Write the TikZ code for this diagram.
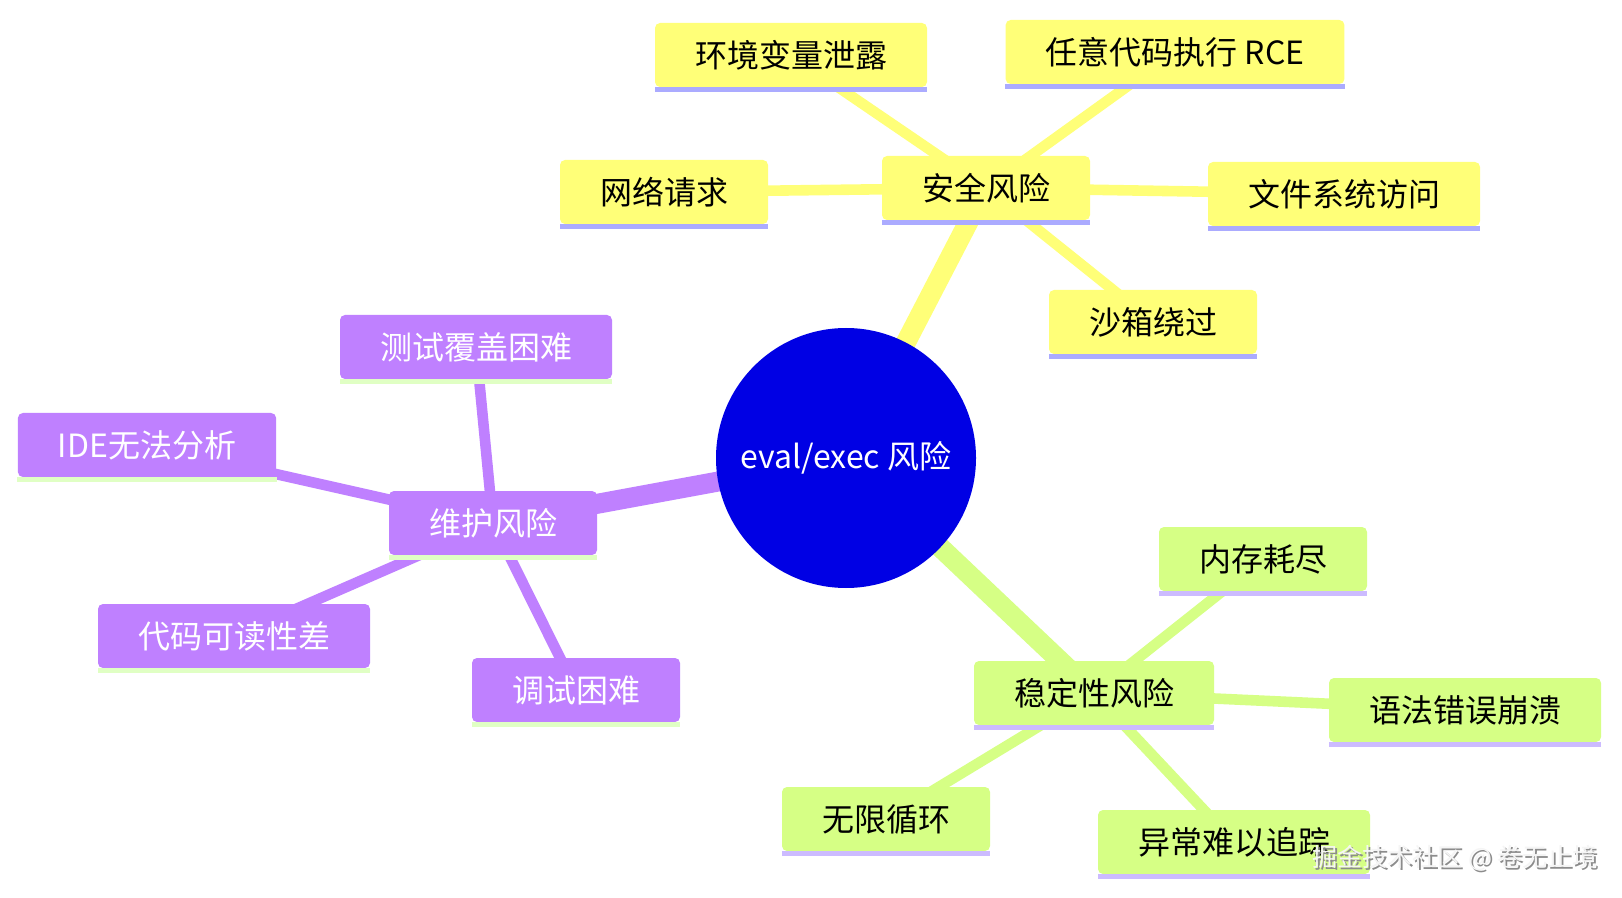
\documentclass[tikz,border=0pt]{standalone}
\usepackage{fontspec}
\setmainfont{Noto Sans CJK SC}
\usepackage{tikz}
\usetikzlibrary{backgrounds}
\definecolor{croot}{HTML}{0000E4}
\definecolor{cyel}{HTML}{FFFF78}
\definecolor{cyelline}{HTML}{ABABFF}
\definecolor{cpur}{HTML}{BF80FF}
\definecolor{cpurline}{HTML}{E0FFC4}
\definecolor{cgrn}{HTML}{D6FF85}
\definecolor{cgrnline}{HTML}{CCBBFF}
\definecolor{cmark}{HTML}{8C8C8C}

\tikzset{
  topic/.style={rounded corners=2.5pt, minimum height=32pt, inner xsep=20pt, inner ysep=0pt,
    font=\fontsize{16}{19}\selectfont},
  yelbox/.style={topic, fill=cyel, text=black},
  purbox/.style={topic, fill=cpur, text=white},
  grnbox/.style={topic, fill=cgrn, text=black},
  trunk/.style={line width=10pt},
  twig/.style={line width=5.3pt},
}

\begin{document}
\begin{tikzpicture}[x=0.5pt,y=-0.5pt]
    \useasboundingbox (0,0) rectangle (1622,898);

    % centre
    \node[circle, fill=croot, text=white, minimum size=130pt, inner sep=0pt,
      font=\fontsize{16}{19}\selectfont] (root) at (846,458) {eval/exec 风险};

    % security branch
    \node[yelbox] (sec)  at (986,188)  {安全风险};
    \node[yelbox] (env)  at (791,55)   {环境变量泄露};
    \node[yelbox] (rce)  at (1175,52)  {任意代码执行 RCE};
    \node[yelbox] (net)  at (664,192)  {网络请求};
    \node[yelbox] (fs)   at (1344,194) {文件系统访问};
    \node[yelbox] (sbox) at (1153,322) {沙箱绕过};

    % maintenance branch
    \node[purbox] (mnt)  at (493,523)  {维护风险};
    \node[purbox] (test) at (476,347)  {测试覆盖困难};
    \node[purbox] (ide)  at (147,445)  {IDE无法分析};
    \node[purbox] (read) at (234,636)  {代码可读性差};
    \node[purbox] (dbg)  at (576,690)  {调试困难};

    % stability branch
    \node[grnbox] (stb)  at (1094,693) {稳定性风险};
    \node[grnbox] (mem)  at (1263,559) {内存耗尽};
    \node[grnbox] (syn)  at (1465,710) {语法错误崩溃};
    \node[grnbox] (loop) at (886,819)  {无限循环};
    \node[grnbox] (exc)  at (1234,842) {异常难以追踪};

    % underlines
    \foreach \n in {sec,env,rce,net,fs,sbox}
      \fill[cyelline] (\n.south west) rectangle ([yshift=-2.5pt]\n.south east);
    \foreach \n in {mnt,test,ide,read,dbg}
      \fill[cpurline] (\n.south west) rectangle ([yshift=-2.5pt]\n.south east);
    \foreach \n in {stb,mem,syn,loop,exc}
      \fill[cgrnline] (\n.south west) rectangle ([yshift=-2.5pt]\n.south east);

    % edges
    \begin{scope}[on background layer]
      \fill[white] (0,0) rectangle (1622,898);
      \draw[cyel, trunk] (root.center) -- (sec.center);
      \draw[cpur, trunk] (root.center) -- (mnt.center);
      \draw[cgrn, trunk] (root.center) -- (stb.center);
      \foreach \n in {env,rce,net,fs,sbox}
        \draw[cyel, twig] (sec.center) -- (\n.center);
      \foreach \n in {test,ide,read,dbg}
        \draw[cpur, twig] (mnt.center) -- (\n.center);
      \foreach \n in {mem,syn,loop,exc}
        \draw[cgrn, twig] (stb.center) -- (\n.center);
    \end{scope}

    % watermark
    \node[text=cmark, font=\fontsize{12.5}{15}\selectfont] (markshade) at (1457,860) {掘金技术社区 @ 卷无止境};
    \node[text=white!96!black, font=\fontsize{12.5}{15}\selectfont] (mark) at (1455,858) {掘金技术社区 @ 卷无止境};
  \end{tikzpicture}
\end{document}
